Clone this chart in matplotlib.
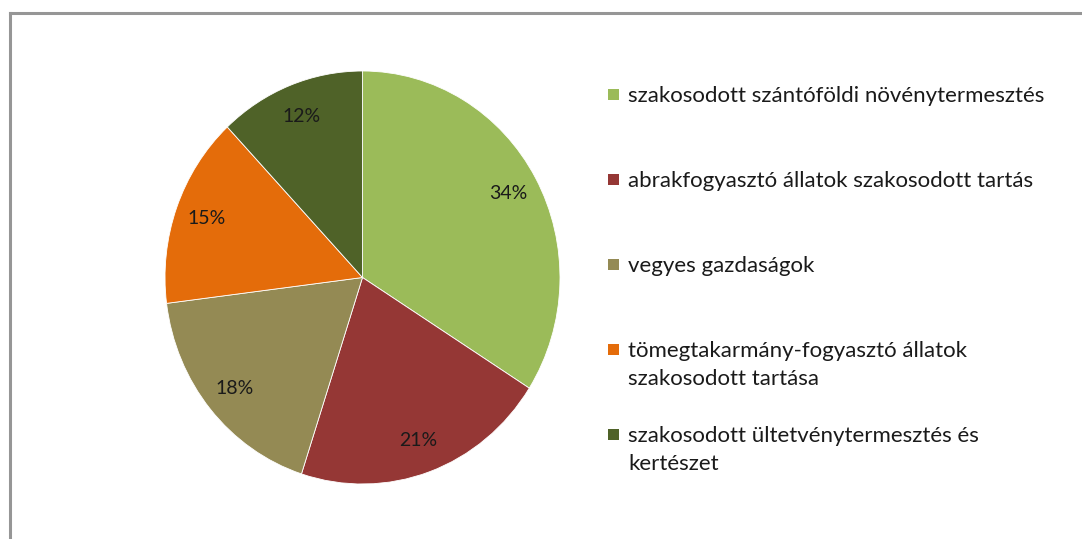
import matplotlib
matplotlib.use("Agg")
import matplotlib.pyplot as plt
from matplotlib.patches import Rectangle
from matplotlib.lines import Line2D

categories = [
    "szakosodott szántóföldi növénytermesztés",
    "abrakfogyasztó állatok szakosodott tartás",
    "vegyes gazdaságok",
    "tömegtakarmány-fogyasztó állatok\nszakosodott tartása",
    "szakosodott ültetvénytermesztés és\nkertészet",
]
values = [34, 21, 18, 15, 12]
colors = ["#9BBB59", "#953735", "#948A54", "#E46C0A", "#4F6228"]

plt.rcParams['font.family'] = ['Lato', 'DejaVu Sans']

W, H = 1082, 539
fig = plt.figure(figsize=(W / 100, H / 100), dpi=100)
fig.patch.set_facecolor("white")

# frame (clipped at right and bottom)
fig.add_artist(Line2D([9.5 / W, 9.5 / W], [0, 1 - 13 / H], transform=fig.transFigure,
                      color="#969696", lw=2.2))
fig.add_artist(Line2D([9.5 / W, 1], [1 - 13 / H, 1 - 13 / H], transform=fig.transFigure,
                      color="#969696", lw=2.2))

cx0, cy0 = 165, 71
pw, ph = 395, 413
ax = fig.add_axes([cx0 / W, 1 - (cy0 + ph) / H, pw / W, ph / H])
wedges, texts, autotexts = ax.pie(
    values, colors=colors, startangle=90, counterclock=False,
    autopct=lambda p: f"{p:.0f}%", pctdistance=0.84,
    wedgeprops=dict(edgecolor="white", linewidth=0.6),
    textprops=dict(fontsize=14, color="#1a1a1a"),
)
ax.set_aspect("auto")
ax.set_xlim(-1, 1)
ax.set_ylim(-1, 1)
ax.axis("off")

# legend
leg_x_box = 608
leg_x_text = 628
leg_baseline = [102, 187, 272, 357, 442]
line_step = 28
for lab, col, yb in zip(categories, colors, leg_baseline):
    fig.add_artist(Rectangle((leg_x_box / W, 1 - (yb - 2) / H), 11 / W, 11 / H,
                             transform=fig.transFigure, facecolor=col, edgecolor="none"))
    for i, line in enumerate(lab.split("\n")):
        fig.text(leg_x_text / W, 1 - (yb + i * line_step) / H, line, fontsize=16,
                 color="#1a1a1a", va="baseline", ha="left",
                 transform=fig.transFigure)

fig.savefig("out.png", dpi=100)
